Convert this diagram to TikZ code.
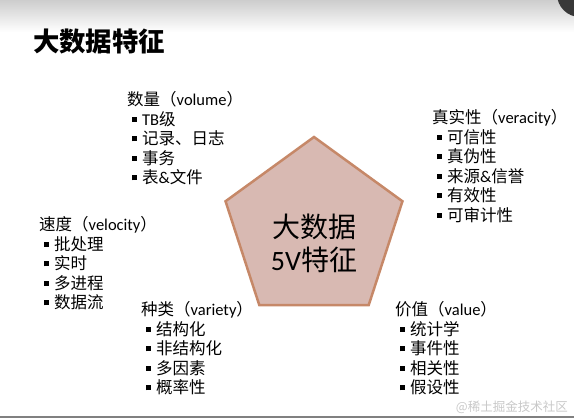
\documentclass[tikz,border=0pt]{standalone}
\usepackage{fontspec}
\setmainfont{Noto Sans CJK SC}
\newfontfamily\latin{Carlito}
\usepackage{xcolor}
\usetikzlibrary{shapes.geometric,positioning}

\definecolor{pentfill}{RGB}{216,185,178}
\definecolor{pentline}{RGB}{198,136,104}
\definecolor{topgray}{RGB}{205,205,205}
\definecolor{markgray}{RGB}{200,200,200}
\newcommand{\sq}{\hspace{5pt}\rule[3.5pt]{5pt}{5pt}\hspace{5pt}}
\newcommand{\en}[1]{{\latin #1}}

\begin{document}
\begin{tikzpicture}[
    x=1pt, y=-1pt,
    group/.style={anchor=north west, align=left, inner sep=0pt, font=\fontsize{16.5}{19.5}\selectfont},
    pent/.style={regular polygon, regular polygon sides=5, minimum size=186pt, draw=pentline, line width=2.5pt, fill=pentfill, inner sep=0pt}
]

\useasboundingbox (0,0) rectangle (574,418);
\shade [top color=topgray, bottom color=white] (0,0) rectangle (574,32);
\fill [black!78] (580,-6) circle (23pt);
\draw [gray, line width=2pt] (0,417) -- (574,417);

\node [anchor=west, inner sep=0pt, font=\fontsize{26.4}{30}\selectfont\bfseries] (title) at (33,42) {大数据特征};

\node [pent] (pentagon) at (314,230) {};
\node [align=center, inner sep=0pt, font=\fontsize{28}{33}\selectfont] (core) at (314,243.5) {大数据\\\en{5V}特征};

\node [group] (volume) at (127,91.5) {数量（\en{volume}）\\\sq\en{TB}级\\\sq 记录、日志\\\sq 事务\\\sq 表\en{\&}文件};
\node [group] (veracity) at (432,109.5) {真实性（\en{veracity}）\\\sq 可信性\\\sq 真伪性\\\sq 来源\en{\&}信誉\\\sq 有效性\\\sq 可审计性};
\node [group] (velocity) at (39,216.5) {速度（\en{velocity}）\\\sq 批处理\\\sq 实时\\\sq 多进程\\\sq 数据流};
\node [group] (variety) at (141,301.5) {种类（\en{variety}）\\\sq 结构化\\\sq 非结构化\\\sq 多因素\\\sq 概率性};
\node [group] (value) at (395,301.5) {价值（\en{value}）\\\sq 统计学\\\sq 事件性\\\sq 相关性\\\sq 假设性};

\node [anchor=east, inner sep=0pt, text=markgray, font=\fontsize{12.5}{14}\selectfont] (mark) at (568,407) {@稀土掘金技术社区};

\end{tikzpicture}
\end{document}
